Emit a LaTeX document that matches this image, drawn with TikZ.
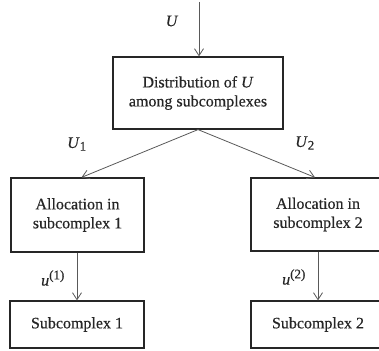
\documentclass[tikz,border=0pt]{standalone}
\usepackage{fontspec}
\setmainfont{Liberation Serif}[FakeBold=0.5]
\usetikzlibrary{arrows.meta}
\begin{document}
\begin{tikzpicture}[x=1pt,y=-1pt,
  box/.style={draw=black!85, line width=1.2pt, align=center, inner sep=0pt,
    font=\fontsize{16}{19}\selectfont, text=black!85},
  conn/.style={draw=black!65, line width=0.8pt, -{Straight Barb[length=7pt,width=9pt]}},
  lbl/.style={font=\fontsize{16}{19}\selectfont, text=black!85, inner sep=0pt}]
\useasboundingbox (0,0) rectangle (379,350);
\node[box, minimum width=170pt, minimum height=72pt] (top) at (198,93) {Distribution of \textit{U}\\among subcomplexes};
\node[box, minimum width=133pt, minimum height=74pt] (a1) at (77.5,215) {Allocation in\\subcomplex 1};
\node[box, minimum width=134pt, minimum height=73pt] (a2) at (318,214.5) {Allocation in\\subcomplex 2};
\node[box, minimum width=134pt, minimum height=47pt] (s1) at (77,324.5) {Subcomplex 1};
\node[box, minimum width=134pt, minimum height=47pt] (s2) at (318,324.5) {Subcomplex 2};
\coordinate (in) at (199,2);
\draw[conn] (in) -- (in |- top.north);
\draw[conn] (top.south) -- ([xshift=4pt]a1.north);
\draw[conn] (top.south) -- ([xshift=-3pt]a2.north);
\draw[conn] (s1.north |- a1.south) -- (s1.north);
\draw[conn] (s2.north |- a2.south) -- (s2.north);
\node[lbl] (lU) at (172,21) {\textit{U}};
\node[lbl] (lU1) at (77,144) {\textit{U}\textsubscript{\fontsize{13}{13}\selectfont 1}};
\node[lbl] (lU2) at (305,143) {\textit{U}\textsubscript{\fontsize{13}{13}\selectfont 2}};
\node[lbl] (lu1) at (53,278) {\textit{u}\textsuperscript{\fontsize{13}{13}\selectfont (1)}};
\node[lbl] (lu2) at (294,277) {\textit{u}\textsuperscript{\fontsize{13}{13}\selectfont (2)}};
\end{tikzpicture}
\end{document}
